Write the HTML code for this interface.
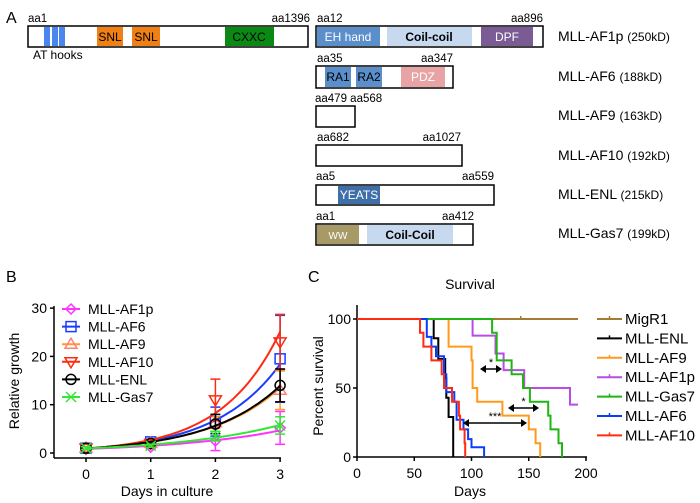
<!DOCTYPE html>
<html><head><meta charset="utf-8"><style>
body{margin:0;background:#fff;}
svg{display:block;font-family:"Liberation Sans",sans-serif;}
</style></head><body>
<svg id="fig" width="700" height="503" viewBox="0 0 700 503">
<g font-size="11.5">
<text x="6" y="23" font-size="16">A</text>
<g>
<rect x="28" y="26" width="280" height="21" fill="#fff" stroke="#000" stroke-width="1.5"/>
<rect x="44" y="27" width="6" height="19" fill="#4a86f0"/><rect x="52" y="27" width="6" height="19" fill="#4a86f0"/><rect x="59" y="27" width="6" height="19" fill="#4a86f0"/>
<rect x="97" y="27" width="26" height="19" fill="#f07f14"/><text x="110" y="41" text-anchor="middle" font-size="12">SNL</text>
<rect x="132" y="27" width="28" height="19" fill="#f07f14"/><text x="146" y="41" text-anchor="middle" font-size="12">SNL</text>
<rect x="225" y="27" width="49" height="19" fill="#0a8a14"/><text x="249" y="41" text-anchor="middle" font-size="12">CXXC</text>
<text x="28" y="22">aa1</text><text x="310" y="22" text-anchor="end">aa1396</text>
<text x="33" y="59" font-size="12">AT hooks</text>
</g>
<g>
<rect x="316" y="26" width="227" height="21" fill="#fff" stroke="#000" stroke-width="1.5"/>
<rect x="317" y="27" width="63" height="19" fill="#5b8fcb"/><text x="348" y="41" text-anchor="middle" fill="#fff" font-size="12">EH hand</text>
<rect x="387" y="27" width="85" height="19" fill="#c7d9ef"/><text x="429" y="41" text-anchor="middle" font-weight="bold" font-size="12">Coil-coil</text>
<rect x="481" y="27" width="52" height="19" fill="#7a5b94"/><text x="507" y="41" text-anchor="middle" fill="#fff" font-size="12">DPF</text>
<text x="317" y="22">aa12</text><text x="543" y="22" text-anchor="end">aa896</text>
<text x="558" y="41" font-size="14">MLL-AF1p <tspan font-size="12">(250kD)</tspan></text>
</g>
<g>
<rect x="316" y="66" width="137" height="22" fill="#fff" stroke="#000" stroke-width="1.5"/>
<rect x="325" y="67" width="26" height="20" fill="#5b8fcb"/><text x="338" y="81" text-anchor="middle" font-size="12">RA1</text>
<rect x="356" y="67" width="26" height="20" fill="#5b8fcb"/><text x="369" y="81" text-anchor="middle" font-size="12">RA2</text>
<rect x="401" y="67" width="44" height="20" fill="#e8a4a4"/><text x="423" y="81" text-anchor="middle" fill="#fff" font-size="12">PDZ</text>
<text x="317" y="62">aa35</text><text x="453" y="62" text-anchor="end">aa347</text>
<text x="558" y="81" font-size="14">MLL-AF6 <tspan font-size="12">(188kD)</tspan></text>
</g>
<g>
<rect x="316" y="106" width="39" height="21" fill="#fff" stroke="#000" stroke-width="1.5"/>
<text x="315" y="102">aa479 aa568</text>
<text x="558" y="120" font-size="14">MLL-AF9 <tspan font-size="12">(163kD)</tspan></text>
</g>
<g>
<rect x="316" y="145" width="146" height="21" fill="#fff" stroke="#000" stroke-width="1.5"/>
<text x="317" y="141">aa682</text><text x="461" y="141" text-anchor="end">aa1027</text>
<text x="558" y="160" font-size="14">MLL-AF10 <tspan font-size="12">(192kD)</tspan></text>
</g>
<g>
<rect x="316" y="185" width="178" height="20" fill="#fff" stroke="#000" stroke-width="1.5"/>
<rect x="338" y="186" width="42" height="18" fill="#3f6fa8"/><text x="359" y="199" text-anchor="middle" fill="#fff" font-size="12">YEATS</text>
<text x="316" y="180">aa5</text><text x="494" y="180" text-anchor="end">aa559</text>
<text x="558" y="199" font-size="14">MLL-ENL <tspan font-size="12">(215kD)</tspan></text>
</g>
<g>
<rect x="316" y="224" width="157" height="21" fill="#fff" stroke="#000" stroke-width="1.5"/>
<rect x="317" y="225" width="42" height="19" fill="#a89a66"/><text x="338" y="239" text-anchor="middle" fill="#fff" font-size="10">WW</text>
<rect x="367" y="225" width="86" height="19" fill="#c7d9ef"/><text x="410" y="239" text-anchor="middle" font-weight="bold" font-size="12">Coil-Coil</text>
<text x="316" y="220">aa1</text><text x="474" y="220" text-anchor="end">aa412</text>
<text x="558" y="238" font-size="14">MLL-Gas7 <tspan font-size="12">(199kD)</tspan></text>
</g>
</g>
<g id="pb"></g>
<g id="pc"></g>
</svg>
<script>
const NS="http://www.w3.org/2000/svg";
const growthDays=[0,1,2,3];
const growthNames=["MLL-AF1p","MLL-AF6","MLL-AF9","MLL-AF10","MLL-ENL","MLL-Gas7"];
const growthAF1p=[1,1.2,2.5,5.2];
const growthAF6=[1,2.3,6.5,19.5];
const growthAF9=[1,2,6.3,13];
const growthAF10=[1,2,11,23];
const growthENL=[1,2,6,14];
const growthGas7=[1,1.5,3.5,5.7];
const growthErrAF1p=[0.3,0.3,2,3.4];
const growthErrAF6=[0.3,0.4,3,9];
const growthErrAF9=[0.3,0.3,1.2,4];
const growthErrAF10=[0.3,0.4,4.3,5.7];
const growthErrENL=[0.3,0.3,2,3.4];
const growthErrGas7=[0.3,0.3,1,1.8];
const growthTicksY=[0,10,20,30];
const survTicksX=[0,50,100,150,200];
const survTicksY=[0,50,100];
const survNames=["MigR1","MLL-ENL","MLL-AF9","MLL-AF1p","MLL-Gas7","MLL-AF6","MLL-AF10"];
const survMigR1Days=[0,193];const survMigR1Pct=[100,100];
const survENLDays=[0,67,71,77,78,80,84];const survENLPct=[100,86,71,57,43,29,0];
const survAF9Days=[0,80,100,101,105,127,150,156,160];const survAF9Pct=[100,80,70,50,40,30,20,10,0];
const survAF1pDays=[0,101,121,128,146,186,193];const survAF1pPct=[100,88,75,63,50,38,38];
const survGas7Days=[0,118,122,135,145,151,167,169,176,179];const survGas7Pct=[100,90,70,60,50,40,30,20,10,0];
const survAF6Days=[0,61,65,69,76,78,85,87,93,97,100,111];const survAF6Pct=[100,87,80,73,60,47,40,27,20,13,7,0];
const survAF10Days=[0,55,58,65,74,76,83,89,90,94,94.5];const survAF10Pct=[100,90,80,70,60,50,40,30,20,10,0];

function el(tag,attrs,parent,txt){const e=document.createElementNS(NS,tag);for(const k in attrs)e.setAttribute(k,attrs[k]);if(txt!==undefined)e.textContent=txt;parent.appendChild(e);return e;}

// Panel B
const pb=document.getElementById('pb');
const bx=d=>86+d*64.7, by=v=>453-v*4.83;
el('text',{x:6,y:282,'font-size':16},pb,'B');
const bAxes=el('g',{},pb);

el('line',{x1:54,y1:306,x2:54,y2:458,stroke:'#000','stroke-width':1.5},bAxes);
el('line',{x1:54,y1:458,x2:281,y2:458,stroke:'#000','stroke-width':1.5},bAxes);
growthTicksY.forEach(t=>{el('line',{x1:50,y1:by(t),x2:54,y2:by(t),stroke:'#000','stroke-width':1.5},bAxes);
 const tx=el('text',{x:47,y:by(t)+5,'text-anchor':'end','font-size':14},bAxes,t);
 });
growthDays.forEach(t=>{el('line',{x1:bx(t),y1:458,x2:bx(t),y2:462,stroke:'#000','stroke-width':1.5},bAxes);
 const tx=el('text',{x:bx(t),y:479,'text-anchor':'middle','font-size':14},bAxes,t);
 });
const bxt=el('text',{x:167,y:496,'text-anchor':'middle','font-size':14},bAxes,'Days in culture');

const byt=el('text',{x:0,y:0,'text-anchor':'middle','font-size':14,transform:'translate(19,381) rotate(-90)'},bAxes,'Relative growth');

const bSeries=[
 {v:growthAF1p,e:growthErrAF1p,c:'#ff33ff',m:'#ff33ff',mk:'diamond'},
 {v:growthAF6,e:growthErrAF6,c:'#1a3cff',m:'#1a3cff',mk:'square'},
 {v:growthAF9,e:growthErrAF9,c:'#ff9a22',m:'#ff7f7f',mk:'tri'},
 {v:growthAF10,e:growthErrAF10,c:'#ff2a10',m:'#ff2a10',mk:'tridown'},
 {v:growthENL,e:growthErrENL,c:'#000',m:'#000',mk:'circle'},
 {v:growthGas7,e:growthErrGas7,c:'#33e633',m:'#33e633',mk:'x'}];
function marker(g,type,x,y,c){
 const a={fill:'none',stroke:c,'stroke-width':1.5};
 if(type==='diamond')el('polygon',Object.assign({points:`${x},${y-5} ${x+5},${y} ${x},${y+5} ${x-5},${y}`},a),g);
 else if(type==='square')el('rect',Object.assign({x:x-5,y:y-5,width:10,height:10},a),g);
 else if(type==='tri')el('polygon',Object.assign({points:`${x},${y-6} ${x+6},${y+4} ${x-6},${y+4}`},a),g);
 else if(type==='tridown')el('polygon',Object.assign({points:`${x},${y+6} ${x+6},${y-4} ${x-6},${y-4}`},a),g);
 else if(type==='circle')el('circle',Object.assign({cx:x,cy:y,r:5},a),g);
 else {el('line',Object.assign({x1:x-5,y1:y-5,x2:x+5,y2:y+5},a),g);el('line',Object.assign({x1:x-5,y1:y+5,x2:x+5,y2:y-5},a),g);}
}
bSeries.forEach((s,i)=>{
 const g=el('g',{},pb);
 
 
 const n=growthDays.length;let sx=0,sy=0,sxx=0,sxy=0;
 growthDays.forEach((d,j)=>{const l=Math.log(s.v[j]);sx+=d;sy+=l;sxx+=d*d;sxy+=d*l;});
 const b=(n*sxy-sx*sy)/(n*sxx-sx*sx),a=(sy-b*sx)/n;
 let p='';for(let k=0;k<=60;k++){const d=3*k/60;p+=(k?'L':'M')+bx(d).toFixed(1)+','+by(Math.exp(a+b*d)).toFixed(1);}
 el('path',{d:p,fill:'none',stroke:s.c,'stroke-width':2},g);
 growthDays.forEach((d,j)=>{const x=bx(d),y1=by(s.v[j]+s.e[j]),y2=by(Math.max(0,s.v[j]-s.e[j]));
  el('line',{x1:x,y1:y1,x2:x,y2:y2,stroke:s.c,'stroke-width':1.5},g);
  el('line',{x1:x-5,y1:y1,x2:x+5,y2:y1,stroke:s.c,'stroke-width':1.5},g);
  el('line',{x1:x-5,y1:y2,x2:x+5,y2:y2,stroke:s.c,'stroke-width':1.5},g);
  marker(g,s.mk,x,by(s.v[j]),s.m);});
 const lg=el('g',{},pb);
 
 
 const ly=309+i*17.6;
 el('line',{x1:62,y1:ly,x2:80,y2:ly,stroke:s.c,'stroke-width':2},lg);
 marker(lg,s.mk,71,ly,s.m);
 el('text',{x:88,y:ly+5,'font-size':14},lg,growthNames[i]);
});

// Panel C
const pc=document.getElementById('pc');
const cx=d=>357+d*1.145, cy=v=>457-v*1.38;
el('text',{x:308,y:282,'font-size':16},pc,'C');
const ct=el('text',{x:470,y:289,'text-anchor':'middle','font-size':14},pc,'Survival');

const cAxes=el('g',{},pc);

el('line',{x1:357,y1:305,x2:357,y2:457,stroke:'#000','stroke-width':1.5},cAxes);
el('line',{x1:357,y1:457,x2:587,y2:457,stroke:'#000','stroke-width':1.5},cAxes);
survTicksY.forEach(t=>{el('line',{x1:353,y1:cy(t),x2:357,y2:cy(t),stroke:'#000','stroke-width':1.5},cAxes);
 const tx=el('text',{x:351,y:cy(t)+5,'text-anchor':'end','font-size':14},cAxes,t);
 });
survTicksX.forEach(t=>{el('line',{x1:cx(t),y1:457,x2:cx(t),y2:461,stroke:'#000','stroke-width':1.5},cAxes);
 const tx=el('text',{x:cx(t),y:478,'text-anchor':'middle','font-size':14},cAxes,t);
 });
const cxt=el('text',{x:470,y:496,'text-anchor':'middle','font-size':14},cAxes,'Days');

const cyt=el('text',{x:0,y:0,'text-anchor':'middle','font-size':14,transform:'translate(323,386) rotate(-90)'},cAxes,'Percent survival');

const cSeries=[
 {d:survMigR1Days,p:survMigR1Pct,c:'#a57a33'},
 {d:survENLDays,p:survENLPct,c:'#000'},
 {d:survAF9Days,p:survAF9Pct,c:'#ff9a1a'},
 {d:survAF1pDays,p:survAF1pPct,c:'#b84ce6'},
 {d:survGas7Days,p:survGas7Pct,c:'#1fb512'},
 {d:survAF6Days,p:survAF6Pct,c:'#0a3cff'},
 {d:survAF10Days,p:survAF10Pct,c:'#ff2a10'}];
cSeries.forEach((s,i)=>{
 const g=el('g',{},pc);
 
 
 let p='M'+cx(s.d[0])+','+cy(s.p[0]);
 for(let j=1;j<s.d.length;j++){p+='H'+cx(s.d[j]).toFixed(1)+'V'+cy(s.p[j]).toFixed(1);}
 el('path',{d:p,fill:'none',stroke:s.c,'stroke-width':2},g);
 const lg=el('g',{},pc);
 
 
 const ly=319+i*19.4;
 el('line',{x1:597,y1:ly,x2:622,y2:ly,stroke:s.c,'stroke-width':2},lg);
 el('line',{x1:609.5,y1:ly-3,x2:609.5,y2:ly,stroke:s.c,'stroke-width':1.5},lg);
 el('text',{x:625,y:ly+5,'font-size':15},lg,survNames[i]);
});
el('line',{x1:cx(143),y1:cy(100)-3,x2:cx(143),y2:cy(100),stroke:'#a57a33','stroke-width':1.5},pc);
function arrow(x1,x2,y,label){
 const g=el('g',{},pc);
 
 
 el('line',{x1:x1+4,y1:y,x2:x2-4,y2:y,stroke:'#000','stroke-width':1.5},g);
 el('polygon',{points:`${x1},${y} ${x1+6},${y-4} ${x1+6},${y+4}`,fill:'#000'},g);
 el('polygon',{points:`${x2},${y} ${x2-6},${y-4} ${x2-6},${y+4}`,fill:'#000'},g);
 el('text',{x:(x1+x2)/2,y:y-3,'text-anchor':'middle','font-size':11},g,label);
}
arrow(480,502,369,'*');
arrow(508,539,408,'*');
arrow(463,527,423,'***');
</script>
</body></html>
